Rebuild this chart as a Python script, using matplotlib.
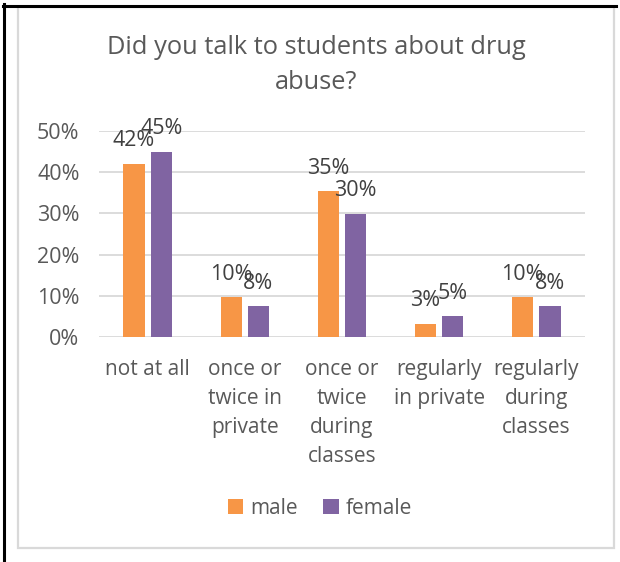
import matplotlib.pyplot as plt
from matplotlib.patches import Rectangle
from matplotlib.lines import Line2D
import numpy as np

# Data
categories = ['not at all', 'once or\ntwice in\nprivate', 'once or\ntwice\nduring\nclasses',
              'regularly\nin private', 'regularly\nduring\nclasses']
male = [0.42, 0.096, 0.354, 0.032, 0.097]
female = [0.45, 0.075, 0.299, 0.050, 0.075]
male_labels = ['42%', '10%', '35%', '3%', '10%']
female_labels = ['45%', '8%', '30%', '5%', '8%']
yticks = [0, 0.1, 0.2, 0.3, 0.4, 0.5]
ytick_labels = ['0%', '10%', '20%', '30%', '40%', '50%']

ORANGE = '#F79646'
PURPLE = '#8064A2'
TEXT = '#595959'
GRID = '#D9D9D9'

plt.rcParams['font.family'] = ['Open Sans', 'DejaVu Sans']

W, H = 620, 562
fig = plt.figure(figsize=(W / 100, H / 100), dpi=100)

# outer borders (table cell + chart frame)
fig.add_artist(Line2D([3.5 / W, 3.5 / W], [0, 1 - 4 / H], color='black', lw=2.2))
fig.add_artist(Line2D([3 / W, 616 / W], [1 - 5.5 / H, 1 - 5.5 / H], color='black', lw=2.2))
fig.add_artist(Rectangle((17.5 / W, 1 - 548 / H), (614 - 17.5) / W, (548 - 7) / H,
                         fill=False, edgecolor=GRID, lw=1.6))

ax = fig.add_axes([99 / W, 1 - 337 / H, 486 / W, (337 - 131) / H])
x = np.arange(len(categories))
bw = 0.22
gap = 0.06
ax.bar(x - (bw + gap) / 2, male, bw, color=ORANGE, label='male', zorder=3)
ax.bar(x + (bw + gap) / 2, female, bw, color=PURPLE, label='female', zorder=3)

# data labels sit above each bar (they overlap a little, as in the original)
for i in range(len(categories)):
    ax.annotate(male_labels[i], (x[i] - (bw + gap) / 2, male[i]), xytext=(0, 9),
                textcoords='offset points', ha='center', va='bottom',
                fontsize=15.5, color='#404040', zorder=4)
    ax.annotate(female_labels[i], (x[i] + (bw + gap) / 2, female[i]), xytext=(0, 9),
                textcoords='offset points', ha='center', va='bottom',
                fontsize=15.5, color='#404040', zorder=4)

ax.set_xlim(-0.5, len(categories) - 0.5)
ax.set_ylim(0, 0.5)
ax.set_yticks(yticks)
ax.set_yticklabels(ytick_labels, fontsize=15.5, color=TEXT)
ax.set_xticks(x)
ax.set_xticklabels(categories, fontsize=15, color=TEXT, linespacing=1.5, va='top')
ax.tick_params(length=0)
ax.tick_params(axis='y', pad=14)
ax.tick_params(axis='x', pad=16)
ax.grid(axis='y', color=GRID, lw=1.3, zorder=0)
for s in ax.spines.values():
    s.set_visible(False)

fig.text(316 / W, 1 - 65 / H, 'Did you talk to students about drug\nabuse?', ha='center',
         va='center', fontsize=18.3, color=TEXT, linespacing=1.55)

ax.legend(loc='center', bbox_to_anchor=(320 / W, 1 - 508 / H), bbox_transform=fig.transFigure,
          ncol=2, frameon=False, fontsize=15, labelcolor=TEXT, handlelength=0.75,
          handleheight=0.75, handletextpad=0.35, columnspacing=1.2)

fig.savefig('out.png', dpi=100, facecolor='white')
